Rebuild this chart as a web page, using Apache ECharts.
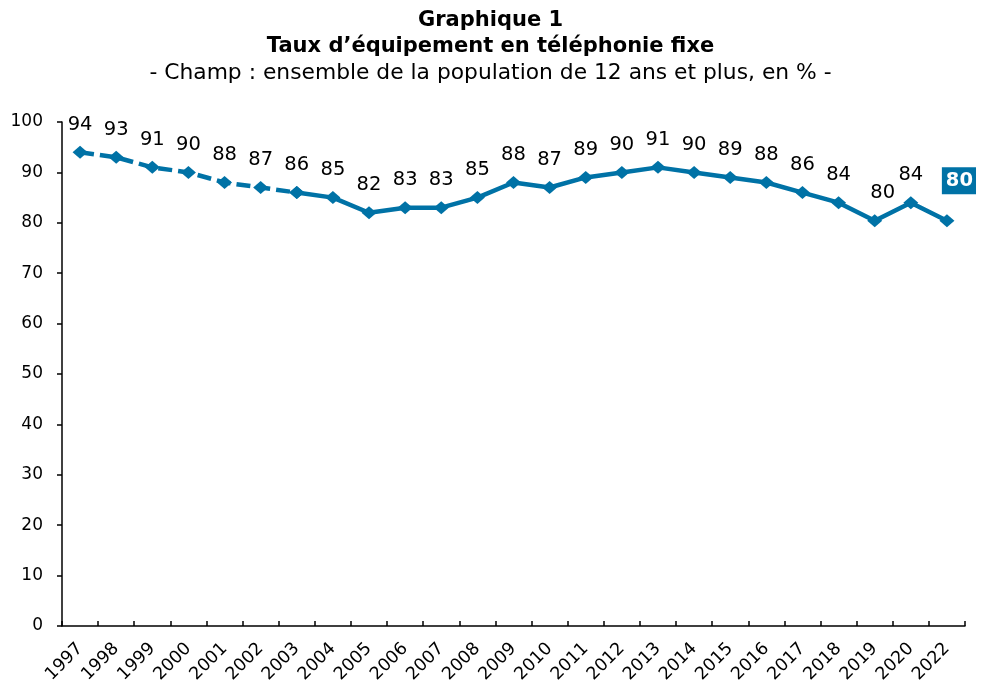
<!DOCTYPE html>
<html>
<head>
<meta charset="utf-8">
<script src="https://cdn.jsdelivr.net/npm/echarts@6/dist/echarts.min.js"></script>
<style>html,body{margin:0;padding:0;background:#fff}#c{width:981px;height:686px}</style>
</head>
<body>
<div id="c"></div>
<script>
var categories = ['1997','1998','1999','2000','2001','2002','2003','2004','2005','2006','2007','2008','2009','2010','2011','2012','2013','2014','2015','2016','2017','2018','2019','2020','2022'];
var values = [94,93,91,90,88,87,86,85,82,83,83,85,88,87,89,90,91,90,89,88,86,84,80.4,84,80.4];
var dashedEnd = 6; // 1997-2003 dashed
var yTicks = {min:0, max:100, interval:10};

var COLOR = '#0072A6';
var FONT = 'DejaVu Sans, Verdana, sans-serif';

var dashedData = values.map(function(v,i){
  if (i > dashedEnd) return '-';
  if (i === dashedEnd) return {value:v, label:{show:false}};
  return v;
});
var solidData = values.map(function(v,i){
  if (i < dashedEnd) return '-';
  if (i === values.length-1) {
    return {value:v, label:{
      show:true, position:'top', distance:0, offset:[12,-20],
      color:'#fff', fontWeight:'bold', backgroundColor:COLOR,
      padding:[4,3,3,4], fontSize:19.5
    }};
  }
  if (categories[i] === '2019') return {value:v, label:{offset:[8,0]}};
  return v;
});

var labelCommon = {
  show:true, position:'top', distance:11, fontSize:19.5, color:'#000', fontFamily:FONT,
  formatter:function(p){return Math.round(p.value);}
};

var chart = echarts.init(document.getElementById('c'), null, {renderer:'canvas'});
chart.setOption({
  animation:false,
  backgroundColor:'#fff',
  textStyle:{fontFamily:FONT},
  title:[
    {text:'Graphique 1', left:'center', top:5, textStyle:{fontSize:21, fontWeight:'bold', color:'#000', fontFamily:FONT}},
    {text:'Taux d\u2019\u00e9quipement en t\u00e9l\u00e9phonie fixe', left:'center', top:31, textStyle:{fontSize:21, fontWeight:'bold', color:'#000', fontFamily:FONT}},
    {text:'- Champ : ensemble de la population de 12 ans et plus, en % -', left:'center', top:57, textStyle:{fontSize:21.8, fontWeight:'normal', color:'#000', fontFamily:FONT}}
  ],
  grid:{left:62, right:16, top:122, bottom:59, containLabel:false},
  xAxis:{
    type:'category', data:categories, boundaryGap:true,
    axisLine:{lineStyle:{color:'#000', width:1.5}},
    axisTick:{show:true, inside:true, length:5, interval:0, lineStyle:{color:'#000', width:1.5}},
    axisLabel:{interval:0, rotate:45, fontSize:17.5, color:'#000', margin:20, fontFamily:FONT},
    splitLine:{show:false}
  },
  yAxis:{
    type:'value', min:yTicks.min, max:yTicks.max, interval:yTicks.interval,
    axisLine:{show:true, lineStyle:{color:'#000', width:1.5}},
    axisTick:{show:true, inside:false, length:5, lineStyle:{color:'#000', width:1.5}},
    axisLabel:{fontSize:17, color:'#000', margin:19, fontFamily:FONT},
    splitLine:{show:false}
  },
  series:[
    {type:'line', data:dashedData, symbol:'diamond', symbolSize:[15,13], showAllSymbol:true,
     lineStyle:{color:COLOR, width:4.5, type:[14,6]}, itemStyle:{color:COLOR},
     label:labelCommon, z:3},
    {type:'line', data:solidData, symbol:'diamond', symbolSize:[15,13], showAllSymbol:true,
     lineStyle:{color:COLOR, width:4.5}, itemStyle:{color:COLOR},
     label:labelCommon, z:3}
  ]
});
</script>
</body>
</html>
